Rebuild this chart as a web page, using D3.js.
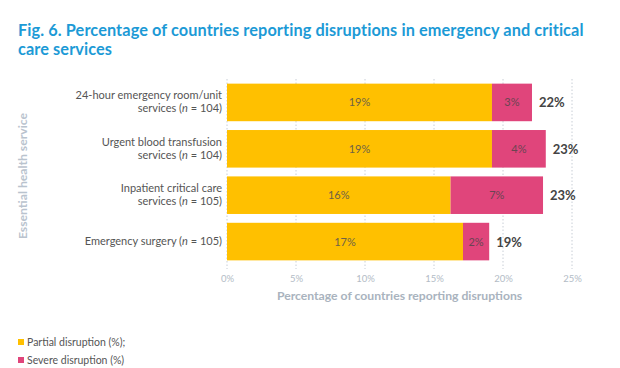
<!DOCTYPE html>
<html>
<head>
<meta charset="utf-8">
<script src="https://cdn.jsdelivr.net/npm/d3@7"></script>
<style>
  body { margin: 0; background: #fff; }
  svg { font-family: 'Lato', 'Open Sans', sans-serif; }
</style>
</head>
<body>
<div id="chart"></div>
<script>
// data
const categories = [
    ['24-hour emergency room/unit', 'services (n = 104)'],
    ['Urgent blood transfusion', 'services (n = 104)'],
    ['Inpatient critical care', 'services (n = 105)'],
    ['Emergency surgery (n = 105)']
]
const partial = [19.2, 19.2, 16.2, 17.1]
const severe = [2.9, 3.9, 6.7, 1.9]
const partialLabels = ['19%', '19%', '16%', '17%']
const severeLabels = ['3%', '4%', '7%', '2%']
const totalLabels = ['22%', '23%', '23%', '19%']
const xTicks = [0, 5, 10, 15, 20, 25]

const width = 620, height = 368
const margin = { top: 79, right: 48, bottom: 103, left: 227 }

const colPartial = '#ffc000'
const colSevere = '#e0457b'

const svg = d3.select('#chart').append('svg')
    .attr('width', width)
    .attr('height', height)

// title, two lines
const titleLines = ['Fig. 6. Percentage of countries reporting disruptions in emergency and critical', 'care services']
svg.selectAll('.title')
    .data(titleLines)
    .enter()
    .append('text')
    .attr('x', 18)
    .attr('y', (d, i) => 36 + i * 19)
    .attr('fill', '#1c9ad6')
    .attr('font-size', '16.3px')
    .attr('font-weight', 'bold')
    .attr('letter-spacing', '0.1px')
    .text(d => d)

const g = svg.append('g').attr('transform', 'translate(' + margin.left + ',' + margin.top + ')')

const x = d3.scaleLinear().domain([0, 25]).range([0, 345])
const y = d3.scaleBand().domain(d3.range(categories.length)).range([0, 186]).paddingInner(0.19).paddingOuter(0.1)

// dotted grid
g.selectAll('.grid')
    .data(xTicks)
    .enter()
    .append('line')
    .attr('x1', d => x(d))
    .attr('x2', d => x(d))
    .attr('y1', 0)
    .attr('y2', 190)
    .attr('stroke', '#c8ced6')
    .attr('stroke-width', 1)
    .attr('stroke-dasharray', '1.5,2')

// x axis labels
const xAxis = d3.axisBottom(x).tickValues(xTicks).tickSize(0).tickPadding(0).tickFormat(d => d + '%')
const ax = g.append('g').attr('transform', 'translate(0,196)').call(xAxis)
ax.select('.domain').remove()
ax.selectAll('text')
    .attr('fill', '#b3bcc6')
    .attr('font-size', '9.5px')
    .attr('font-family', 'Lato, sans-serif')

svg.append('text')
    .attr('x', margin.left + x(12.5))
    .attr('y', 300)
    .attr('text-anchor', 'middle')
    .attr('fill', '#a9b3be')
    .attr('font-size', '12.2px')
    .attr('font-weight', 'bold')
    .text('Percentage of countries reporting disruptions')

// y axis title
svg.append('text')
    .attr('transform', 'translate(27,' + (margin.top + 97) + ') rotate(-90)')
    .attr('text-anchor', 'middle')
    .attr('fill', '#b9c3ce')
    .attr('font-size', '12.2px')
    .attr('font-weight', 'bold')
    .text('Essential health service')

// category labels
categories.forEach(function (lines, i) {
    const cy = y(i) + y.bandwidth() / 2
    const t = g.append('text')
        .attr('text-anchor', 'end')
        .attr('fill', '#555')
        .attr('font-size', '11px')
    const start = cy - (lines.length - 1) * 6.5 + 3.5
    lines.forEach(function (line, j) {
        const ts = t.append('tspan').attr('x', -5).attr('y', start + j * 13)
        const parts = line.split('n =')
        if (parts.length > 1) {
            ts.append('tspan').text(parts[0])
            ts.append('tspan').attr('font-style', 'italic').text('n')
            ts.append('tspan').text(' =' + parts[1])
        } else {
            ts.text(line)
        }
    })
})

// bars
const idx = d3.range(categories.length)
g.selectAll('.partial')
    .data(idx)
    .enter()
    .append('rect')
    .attr('x', x(0))
    .attr('y', i => y(i))
    .attr('width', i => x(partial[i]) - x(0))
    .attr('height', y.bandwidth())
    .attr('fill', colPartial)

g.selectAll('.severe')
    .data(idx)
    .enter()
    .append('rect')
    .attr('x', i => x(partial[i]))
    .attr('y', i => y(i))
    .attr('width', i => x(partial[i] + severe[i]) - x(partial[i]))
    .attr('height', y.bandwidth())
    .attr('fill', colSevere)

// value labels
g.selectAll('.plab')
    .data(idx)
    .enter()
    .append('text')
    .attr('x', i => x(partial[i] / 2))
    .attr('y', i => y(i) + y.bandwidth() / 2 + 4)
    .attr('text-anchor', 'middle')
    .attr('fill', '#6e6247')
    .attr('font-size', '11px')
    .text(i => partialLabels[i])

g.selectAll('.slab')
    .data(idx)
    .enter()
    .append('text')
    .attr('x', i => x(partial[i] + severe[i] / 2))
    .attr('y', i => y(i) + y.bandwidth() / 2 + 4)
    .attr('text-anchor', 'middle')
    .attr('fill', '#6a4452')
    .attr('font-size', '11px')
    .text(i => severeLabels[i])

g.selectAll('.tlab')
    .data(idx)
    .enter()
    .append('text')
    .attr('x', i => x(partial[i] + severe[i]) + 7)
    .attr('y', i => y(i) + y.bandwidth() / 2 + 5)
    .attr('fill', '#444')
    .attr('font-size', '13px')
    .attr('font-weight', 'bold')
    .text(i => totalLabels[i])

// legend
const legend = [['Partial disruption (%);', colPartial], ['Severe disruption (%)', colSevere]]
legend.forEach(function (d, i) {
    svg.append('rect')
        .attr('x', 18)
        .attr('y', 346 + i * 18 - 7)
        .attr('width', 6)
        .attr('height', 6)
        .attr('fill', d[1])
    svg.append('text')
        .attr('x', 27)
        .attr('y', 346 + i * 18)
        .attr('fill', '#555')
        .attr('font-size', '10.5px')
        .text(d[0])
})
</script>
</body>
</html>
